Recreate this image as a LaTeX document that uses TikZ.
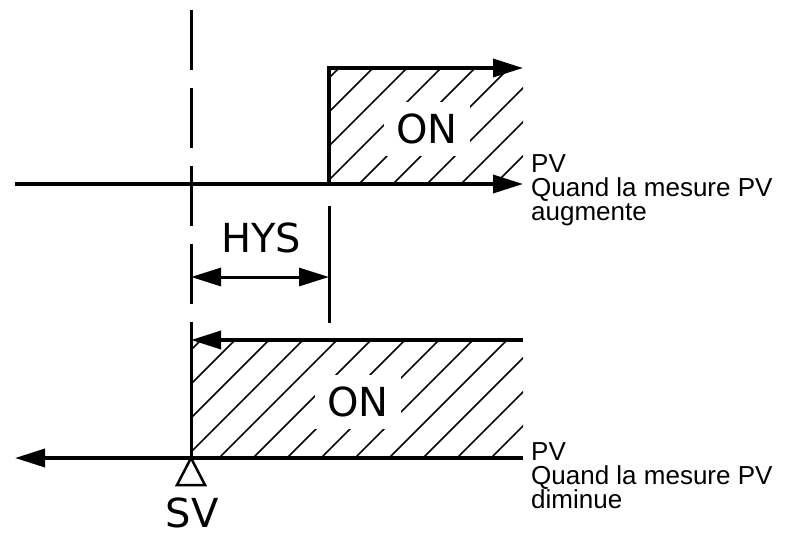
\documentclass[tikz,border=0pt]{standalone}
\usepackage{fontspec}
\setmainfont{Liberation Sans}
\newfontfamily\bigsans{DejaVu Sans}
\usetikzlibrary{arrows.meta}
\tikzset{
  bigtip/.tip={Triangle[length=30pt,width=18pt]},
  axisline/.style={line width=3.5pt,line join=miter},
  tickline/.style={line width=3pt},
  hatchline/.style={line width=1.5pt},
  biglabel/.style={font=\bigsans\fontsize{40}{48}\selectfont,inner sep=0pt},
  pvlabel/.style={font=\fontsize{26}{24}\selectfont,align=left,anchor=north west,inner sep=0pt},
}
\begin{document}
\begin{tikzpicture}[x=1pt,y=-1pt]
  \useasboundingbox (0,0) rectangle (796,538);
  % points
  \coordinate (top) at (191,10);
  \coordinate (sv) at (191,458);
  \coordinate (svtop) at (191,340);
  \coordinate (upleft) at (15,184);
  \coordinate (upright) at (523,184);
  \coordinate (upon) at (329,184);
  \coordinate (upontop) at (523,68);
  \coordinate (loleft) at (15,458);
  \coordinate (loright) at (523,458);
  \coordinate (lotop) at (523,340);
  \coordinate (hysa) at (191,277);
  \coordinate (hysb) at (329,277);
  \coordinate (ticka) at (329,206);
  \coordinate (tickb) at (329,323);
  % hatching
  \begin{scope}
    \clip (329,68) rectangle (523,184);
    \foreach \a in {189,223,...,529}
      \draw[hatchline] (\a,184) -- ++(125,-125);
  \end{scope}
  \begin{scope}
    \clip (191,340) rectangle (523,458);
    \foreach \a in {83,117,...,525}
      \draw[hatchline] (\a,458) -- ++(130,-130);
  \end{scope}
  \node[biglabel,fill=white,inner sep=12pt] (onup) at (427,129) {ON};
  \node[biglabel,fill=white,inner sep=12pt] (onlo) at (358,402) {ON};
  % axes
  \draw[axisline,-bigtip] (upleft) -- (upright);
  \draw[axisline,-bigtip] (upon) |- (upontop);
  \draw[axisline,-bigtip] (loright) -- (loleft);
  \draw[axisline,-bigtip] (lotop) -- (svtop);
  \draw[tickline,dash pattern=on 60pt off 18pt] (top) -- (svtop);
  \draw[tickline] (svtop) -- (sv);
  \draw[tickline] (ticka) -- (tickb);
  \draw[tickline,bigtip-bigtip] (hysa) -- (hysb);
  \draw[line width=2.5pt,fill=white,line join=miter] (sv) -- ++(-14,27) -- ++(28,0) -- cycle;
  % labels
  \node[biglabel] (hys) at (261,238) {HYS};
  \node[biglabel] (svlabel) at (192,513) {SV};
  \node[pvlabel] (pvup) at (531,154) {PV\\Quand la mesure PV\\augmente};
  \node[pvlabel] (pvlo) at (531,442) {PV\\Quand la mesure PV\\diminue};
\end{tikzpicture}
\end{document}
